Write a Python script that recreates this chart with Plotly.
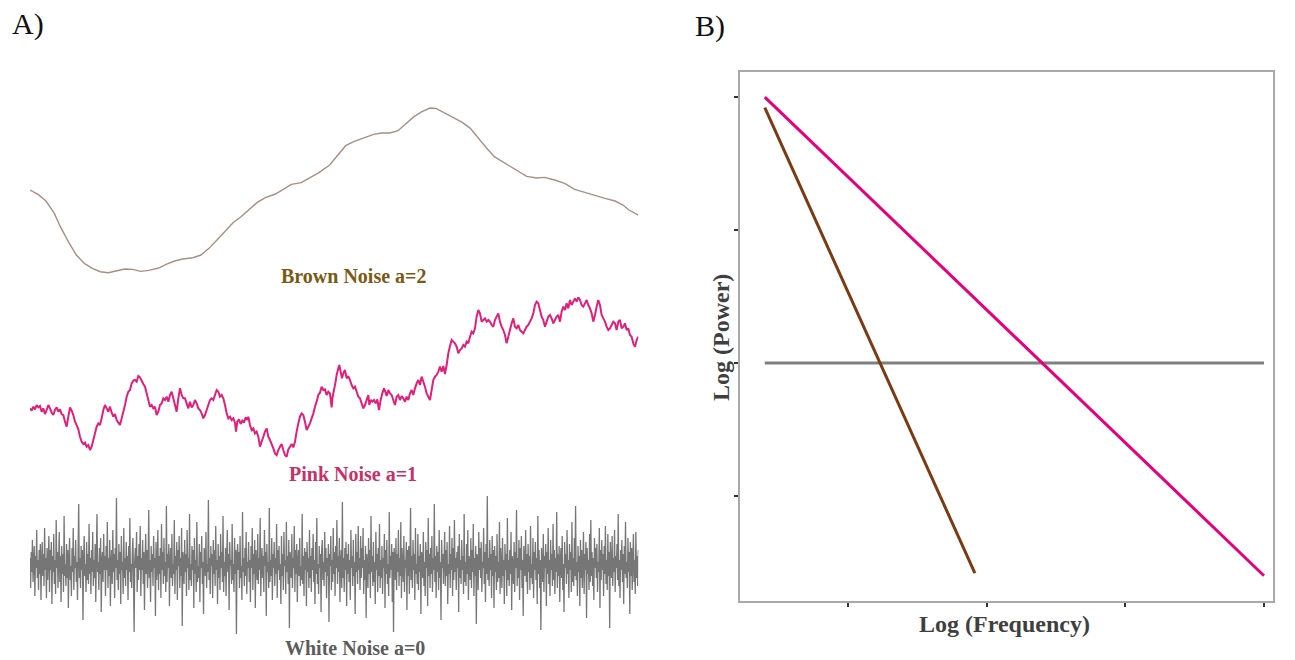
import plotly.graph_objects as go
import numpy as np

W, H = 1295, 660

# ---------------- Panel A data (sample index, amplitude) ----------------
brown_t = [0, 24, 48, 73, 91, 115, 139, 163, 187, 211,
           235, 259, 284, 308, 332, 356, 386, 410, 434, 458,
           489, 513, 537, 561, 585, 609, 633, 657, 682, 706,
           736, 760, 784, 814, 838, 868, 899, 923, 947, 971,
           1001, 1031, 1055, 1080, 1104, 1128, 1152, 1176, 1200, 1218,
           1236, 1266, 1297, 1321, 1345, 1369, 1393, 1417, 1441, 1465,
           1490, 1520, 1544, 1574, 1604, 1634, 1664, 1695, 1725, 1755,
           1779, 1797, 1825]
brown_v = [248, 235, 215, 178, 138, 93, 53, 28, 13, 3,
           0, 6, 11, 10, 4, 7, 14, 26, 35, 41,
           45, 53, 73, 98, 125, 150, 168, 188, 211, 225,
           236, 250, 265, 270, 283, 301, 323, 353, 381, 393,
           403, 415, 419, 419, 426, 448, 468, 483, 494, 493,
           483, 468, 451, 433, 403, 375, 348, 333, 320, 305,
           289, 284, 286, 278, 268, 250, 240, 232, 223, 215,
           203, 188, 173]

pink_t_mid = [600, 605, 610, 615, 618, 622, 627, 632, 637, 642,
              647, 652, 655, 660, 665, 670, 675, 680, 685, 690,
              695, 700, 705, 710, 715, 720, 725, 730, 735, 740,
              745, 750, 755, 760, 765, 770, 775, 780, 785, 790,
              795, 800, 805, 810, 815, 820, 825, 830, 835, 840,
              845, 850, 855, 860, 865, 870, 875, 880, 885, 890,
              895, 900, 905, 908, 912, 916, 920, 925, 928, 932,
              936, 940, 945, 950, 955, 960, 965, 970, 975, 980,
              985, 990, 995, 1000, 1005, 1010, 1015, 1018, 1022, 1027,
              1032, 1037, 1042, 1047, 1052, 1057, 1062, 1066, 1070, 1075,
              1080, 1085, 1090, 1095, 1100, 1105, 1110, 1115, 1120, 1125,
              1130, 1135, 1140, 1145, 1150, 1155, 1160, 1165, 1170, 1175,
              1180, 1185, 1190, 1195, 1200, 1205, 1210, 1215, 1220, 1225]
pink_t = list(range(0, 600, 5)) + pink_t_mid + list(range(1230, 1830, 5))
pink_v = [145, 138, 150, 142, 155, 148, 152, 135, 145, 128,
          140, 155, 145, 132, 125, 140, 148, 135, 142, 128,
          125, 105, 90, 120, 148, 138, 125, 105, 95, 82,
          60, 45, 38, 42, 30, 35, 20, 30, 50, 70,
          90, 100, 95, 115, 140, 155, 145, 135, 150, 132,
          120, 128, 110, 102, 95, 115, 135, 155, 180, 195,
          200, 220, 228, 230, 225, 242, 238, 228, 218, 210,
          190, 170, 150, 155, 145, 150, 125, 135, 155, 160,
          175, 170, 180, 165, 185, 195, 175, 155, 135, 175,
          205, 185, 175, 175, 160, 145, 165, 148, 155, 170,
          160, 145, 140, 130, 115, 125, 140, 155, 170, 175,
          170, 185, 200, 195, 180, 185, 175, 155, 130, 115,
          # middle segment
          120, 110, 115, 102, 75, 105, 112, 98, 108, 102,
          118, 110, 120, 95, 80, 85, 70, 75, 60, 30,
          45, 60, 75, 85, 60, 50, 38, 25, 10, 5,
          20, 30, 38, 20, 5, 0, 22, 30, 38, 28,
          45, 75, 100, 120, 130, 125, 105, 80, 90, 100,
          115, 130, 150, 165, 185, 192, 210, 200, 202, 185,
          195, 190, 148, 180, 200, 220, 245, 265, 275, 255,
          235, 250, 260, 235, 242, 230, 215, 205, 210, 195,
          180, 175, 160, 145, 155, 170, 185, 155, 170, 165,
          170, 160, 172, 140, 170, 190, 205, 195, 182, 200,
          190, 185, 170, 155, 180, 185, 170, 182, 175, 165,
          180, 170, 190, 200, 185, 205, 220, 230, 215, 240,
          225, 210, 190, 180, 170, 200, 230, 240, 245, 255,
          # last segment
          270, 255, 272, 248, 275, 310, 332, 350, 345, 340,
          330, 310, 320, 325, 335, 330, 345, 340, 360, 375,
          370, 385, 420, 440, 430, 405, 410, 415, 405, 410,
          405, 395, 390, 410, 420, 430, 405, 390, 380, 365,
          340, 360, 380, 400, 415, 390, 385, 395, 380, 375,
          370, 380, 390, 395, 405, 415, 430, 455, 465, 460,
          440, 420, 410, 390, 405, 420, 425, 415, 400, 410,
          420, 425, 405, 435, 450, 440, 460, 445, 470, 455,
          465, 475, 465, 478, 470, 455, 450, 460, 470, 455,
          445, 430, 405, 425, 450, 470, 455, 425, 415, 405,
          390, 380, 385, 395, 405, 400, 380, 405, 410, 385,
          390, 400, 380, 385, 365, 360, 340, 330, 350, 360]

white_v = [
    0.4, -1.1, 0.7, -0.3, 1.3, -0.8, 0.2, 1.0, -1.5, 0.5, -0.1, 1.8, -0.6, 0.3, -1.2, 0.8, -0.4, 1.1, -1.7, 0.1,
    1.2, -0.5, 0.6, -1.0, 1.9, -0.2, 0.4, -1.6, 0.9, -0.7, 0.3, 1.5, -1.3, 0.8, -0.2, 1.2, -1.9, 0.5, -0.3, 1.6,
    -0.9, 0.3, -1.4, 2.3, -0.1, 0.7, -1.1, 0.2, 1.7, -0.8, 0.5, -1.8, 1.0, -0.4, 0.6, -1.3, 2.5, -0.5, 0.1, -1.0,
    1.1, -0.6, 0.8, -2.1, 0.3, 1.4, -0.7, 0.0, -1.5, 0.9, -0.3, 1.9, -1.2, 0.5, -0.1, 1.3, -0.8, 0.2, -1.7, 0.7,
    3.1, -0.6, 0.4, -1.1, 1.0, -0.2, 0.8, -2.7, 0.3, 1.5, -0.5, 0.1, -1.3, 1.2, -0.7, 0.6, -0.9, 2.1, -0.4, 0.4,
    -1.4, 0.8, -0.3, 1.7, -1.0, 0.3, -0.6, 1.1, -1.8, 0.5, 2.6, -0.3, 0.2, -1.2, 0.9, -0.4, 1.4, -2.3, 0.2, 0.7,
    -0.8, 1.6, -0.2, 0.5, -1.5, 1.0, -0.2, 2.2, -1.1, 0.4, -0.5, 1.3, -2.0, 0.1, 0.8, -0.9, 1.8, -0.3, 0.6, -1.6,
    0.9, -0.1, 3.4, -0.7, 0.3, -1.2, 1.1, -0.4, 0.7, -1.9, 1.5, -0.2, 0.2, -1.4, 1.9, -0.6, 0.4, -1.0, 1.2, -0.2,
    0.5, -1.7, 1.0, -0.3, 2.4, -0.8, 0.1, -1.1, 0.6, 1.4, -0.5, -3.3, 0.3, 0.9, -0.1, 1.7, -1.3, 0.5, -0.7, 1.1,
    -0.2, 2.0, -1.5, 0.4, -0.2, 1.3, -0.9, 0.7, -2.2, 0.2, 1.6, -0.4, 0.8, -1.1, 0.1, 2.8, -0.6, 0.3, -1.8, 1.0,
    -0.3, 0.6, -1.0, 1.5, -0.1, 0.4, -2.5, 1.2, -0.7, 0.0, 1.8, -1.2, 0.5, -0.4, 0.9, -1.6, 2.1, -0.2, 0.7, -0.9,
    1.4, -0.5, 0.2, -1.3, 3.0, -0.8, 0.6, -0.1, 1.1, -2.0, 0.3, 0.9, -0.6, 1.6, -1.0, 0.1, -0.4, 2.3, -1.4, 0.5,
    -0.2, 1.2, -1.7, 0.8, 0.0, 1.5, -1.1, 0.4, -0.5, 1.9, -3.0, 0.7, 0.2, -0.9, 1.3, -0.3, 0.6, -1.5, 1.8, -0.1,
    0.4, -1.2, 2.6, -0.7, 0.1, -1.0, 1.0, -0.2, 0.8, -2.1, 1.4, -0.4, 0.3, -1.3, 2.2, -0.8, 0.0, -0.6, 1.1, -1.8,
    0.7, -0.1, 1.5, -0.9, 0.2, -2.4, 0.9, 0.5, -0.5, 1.7, -1.1, 0.1, -0.3, 3.3, -0.7, 0.4, -1.4, 1.0, 0.0, 0.6,
    -1.6, 1.3, -0.4, 0.8, -1.0, 2.0, -0.2, 0.3, -1.9, 1.1, -0.6, 0.5, -1.2, 1.6, -0.1, 0.7, -0.8, 2.5, -1.3, 0.2,
    -0.5, 0.9, -1.5, 0.4, 1.8, -0.3, 0.6, -2.2, 1.2, 0.0, 0.3, -0.9, 2.1, -0.7, 0.1, -1.3, 1.4, -0.4, 0.8, -3.4,
    0.5, 1.1, -0.2, 0.7, -1.1, 1.5, -0.6, 0.0, -1.7, 2.7, -0.3, 0.4, -1.0, 0.9, -0.5, 1.7, -1.4, 0.2, -0.1, 1.2,
    -0.8, 0.3, -1.8, 1.0, -0.1, 1.9, -1.2, 0.6, -0.4, 1.3, -2.1, 0.8, 0.0, -0.7, 1.6, -0.9, 0.4, -0.2, 2.4, -1.5,
    0.1, 0.9, -0.6, 0.5, -1.3, 1.8, 0.0, 0.7, -2.5, 1.1, -0.3, 0.2, -1.1, 2.9, -0.8, 0.3, -0.5, 1.4, -1.7, 0.6,
    -0.1, 1.2, -1.0, 0.4, -0.4, 2.1, -1.6, 0.8, -0.2, 1.0, -0.7, 0.1, -1.9, 1.5, -0.5, 0.6, -1.2, 1.7, 0.0, 0.3,
    -1.4, 2.2, -0.3, 0.5, -0.9, 1.3, -3.1, 0.7, 0.1, -0.6, 1.6, -1.1, 0.4, -0.1, 2.0, -1.3, 0.8, -0.4, 1.1, -1.8,
    0.2, 0.8, -0.5, 1.4, -1.0, 0.0, -0.7, 2.6, -0.9, 0.5, -1.5, 0.9, -0.2, 0.7, -2.0, 1.2, -0.3, 0.4, -1.1, 1.8,
    -0.6, 0.5, -1.3, 0.9, -0.2, 1.6, -0.8, 0.3, -1.9, 1.2, -0.4, 2.4, -0.9, 0.1, -1.4, 1.0, -0.1, 0.6, -2.3, 0.8,
    1.3, -0.7, 0.2, -1.0, 1.7, -0.3, 0.9, -1.6, 0.4, -0.5, 1.1, -2.8, 0.6, 0.0, 1.5, -1.2, 0.3, -0.8, 1.9, -0.4,
    0.7, -1.5, 1.0, -0.1, 2.3, -0.9, 0.5, -0.3, 1.4, -1.8, 0.2, 0.8, -1.1, 3.2, -0.6, 0.4, -1.3, 0.9, -0.2, 1.2,
    -2.0, 0.6, -0.4, 1.1, -0.8, 0.3, -1.7, 1.8, -0.1, 0.5, -1.0, 1.3, -0.5, 0.2, -2.4, 1.6, -0.3, 0.7, -0.9, 2.0,
    -0.2, 0.4, -1.2, 1.5, -0.6, 0.9, -0.1, 1.9, -1.4, 0.3, -0.7, 1.0, -2.6, 0.6, 0.1, -1.1, 1.4, -0.4, 0.8, -1.6,
    2.5, -0.3, 0.5, -1.0, 1.2, -0.8, 0.2, -1.9, 1.7, -0.2, 0.6, -1.3, 0.9, -0.5, 2.1, -1.1, 0.3, -0.6, 1.0, -1.4,
    0.4, -0.1, 1.6, -2.1, 0.8, -0.4, 1.3, -0.9, 0.1, -1.5, 2.7, -0.6, 0.5, -0.2, 1.1, -1.8, 0.7, -3.3, 0.9, 0.2,
    -0.7, 1.4, -1.2, 0.6, -0.3, 1.8, -1.0, 0.4, -0.5, 2.2, -1.6, 0.9, 0.0, -0.8, 1.5, -1.3, 0.3, -0.1, 1.2, -2.2,
    0.8, -0.5, 1.0, -1.4, 0.2, 2.9, -0.7, 0.5, -1.1, 1.3, -0.2, 0.6, -1.7, 1.9, -0.4, 0.1, -0.9, 1.6, -1.2, 0.5,
    -0.3, 1.1, -2.4, 0.7, 0.3, -0.6, 1.7, -1.0, 0.2, -1.5, 1.2, -0.1, 0.8, -2.0, 2.4, -0.5, 0.6, -1.1, 0.9, -0.4,
    1.5, -1.3, 0.4, -0.2, 3.1, -0.8, 0.5, -1.6, 1.0, -0.3, 0.7, -1.2, 1.8, -0.6, 0.2, -2.7, 1.3, -0.1, 0.6, -0.9,
    0.3, 1.7, -1.0, 0.8, -0.5, 1.2, -1.9, 0.1, -0.4, 2.0, -1.1, 0.6, -0.2, 1.4, -1.5, 0.9, -0.7, 2.3, -0.3, 0.4,
    -1.2, 0.7, -0.1, 1.0, -2.3, 1.6, -0.6, 0.3, -0.9, 1.3, -0.2, 0.5, -1.4, 2.6, -0.8, 0.2, -1.0, 1.1, -0.4, 1.8,
    -1.7, 0.5, 0.1, -0.7, 1.4, -1.1, 0.8, -0.3, 2.1, -1.5, 0.4, -0.5, 1.0, -2.9, 0.6, 0.3, -1.2, 1.7, -0.2, 0.9,
    -0.6, 1.2, -1.3, 0.2, -0.1, 1.9, -0.9, 0.7, -1.8, 1.1, -0.4, 3.5, -0.7, 0.4, -1.0, 1.3, -0.2, 0.6, -1.6, 1.5,
    -0.5, 0.8, -2.1, 1.0, -0.3, 0.5, -1.2, 1.6, -0.8, 0.2, -0.6, 2.2, -1.4, 0.9, 0.0, -1.1, 1.4, -0.5, 0.3, -1.9,
    1.1, -0.2, 0.6, -1.5, 2.4, -0.7, 0.3, -1.0, 0.8, -0.4, 1.7, -2.2, 0.5, 0.1, -0.9, 1.2, -1.3, 0.7, -0.1, 2.8,
    -1.0, 0.4, -0.6, 1.3, -1.7, 0.9, -0.2, 1.5, -1.1, 0.3, -2.5, 1.0, 0.2, -0.5, 1.8, -0.8, 0.6, -1.4, 1.1, -0.3,
    0.5, -1.2, 2.0, -0.6, 0.1, -0.9, 1.4, -1.6, 0.7, -0.2, 1.2, -0.7, 0.4, -1.9, 2.5, -0.4, 0.8, -1.1, 0.3, -3.2,
    0.9, 0.2, -0.8, 1.6, -1.3, 0.5, -0.1, 1.1, -2.0, 0.7, -0.4, 1.9, -0.9, 0.3, -1.5, 1.3, -0.2, 0.6, -1.0, 2.1,
    -0.7, 0.8, -1.4, 0.4, -0.3, 2.7, -1.1, 0.6, -0.5, 1.0, -1.8, 0.2, 0.9, -0.6, 1.5, -1.2, 0.1, -2.3, 1.2, -0.1,
    0.6, -0.9, 1.8, -0.4, 0.3, -1.6, 1.1, -0.2, 0.7, -1.3, 2.2, -0.8, 0.4, -1.0, 1.4, -0.5, 3.0, -0.7, 0.2, -1.5,
    1.0, -0.3, 0.5, -2.0, 1.3, -0.6, 0.8, -1.1, 0.1, 1.7, -1.4, 0.6, -0.2, 1.2, -2.6, 0.9, -0.4, 0.3, -1.2, 1.6,
    -0.8, 2.3, -0.5, 0.7, -1.0, 0.4, -1.7, 1.4, -0.1, 0.9, -0.6, 1.1, -1.3, 0.2, -0.3, 1.9, -2.1, 0.8, -0.7, 1.3,
    -0.2, 0.6, -1.5, 1.0, -0.4, 2.0, -0.9, 0.3, -1.2, 1.6, -0.5, 0.7, -3.1, 1.2, 0.1, -0.6, 1.5, -1.0, 0.4, -0.3,
    1.8, -1.3, 0.5, -0.1, 1.1, -0.7, 2.6, -1.0, 0.3, -1.6, 0.8, -0.2, 1.3, -0.8, 0.6, -1.9, 1.0, -0.4, 2.2, -0.6,
    0.2, -1.1, 1.4, -0.3, 0.7, -2.4, 1.2, -0.5, 0.9, -1.2, 0.4, 1.6, -0.8, 0.3, -1.4, 1.7, -0.6, 0.5, -1.0, 0.8]
white_t = np.linspace(0, 1825, len(white_v))

# ---------------- Panel B data (log frequency, log power) ----------------
logf_pink = [0.4, 4.0]
logp_pink = [2.0, -1.6]
logf_brown = [0.4, 1.915]
logp_brown = [1.92, -1.58]
logf_white = [0.4, 4.0]
logp_white = [0.0, 0.0]
x_ticks = [1, 2, 3, 4]
y_ticks = [-1, 0, 1, 2]

SERIF = "Liberation Serif, Times New Roman, serif"


def yrange(v0, p0, v1, p1):
    k = (p0 - p1) / (v1 - v0)
    return [v0 - (H - p0) / k, v0 + p0 / k]


fig = go.Figure()

fig.add_trace(go.Scatter(x=brown_t, y=brown_v, mode="lines", xaxis="x", yaxis="y",
                         line=dict(color="#a88f80", width=1.4), hoverinfo="skip"))
fig.add_trace(go.Scatter(x=pink_t, y=pink_v, mode="lines", xaxis="x", yaxis="y2",
                         line=dict(color="#e0207a", width=2, simplify=False), hoverinfo="skip"))
fig.add_trace(go.Scatter(x=white_t, y=white_v, mode="lines", xaxis="x", yaxis="y3",
                         line=dict(color="#767676", width=1.3, simplify=False), hoverinfo="skip"))

fig.add_trace(go.Scatter(x=logf_white, y=logp_white, mode="lines", xaxis="x2", yaxis="y4",
                         line=dict(color="#7f7f7f", width=3.2), hoverinfo="skip"))
fig.add_trace(go.Scatter(x=logf_brown, y=logp_brown, mode="lines", xaxis="x2", yaxis="y4",
                         line=dict(color="#7a3b12", width=3), hoverinfo="skip"))
fig.add_trace(go.Scatter(x=logf_pink, y=logp_pink, mode="lines", xaxis="x2", yaxis="y4",
                         line=dict(color="#e6007e", width=3), hoverinfo="skip"))

hidden = dict(visible=False, showgrid=False, zeroline=False, fixedrange=True)

px_per_x = (1264 - 848) / 3.0
px_per_y = (496.6 - 97.7) / 3.0
xb_range = [1 - (848 - 740) / px_per_x, 1 + (1273 - 848) / px_per_x]
yb_range = [(363 - 601) / px_per_y, (363 - 72) / px_per_y]

fig.update_layout(
    width=W, height=H,
    margin=dict(l=0, r=0, t=0, b=0),
    paper_bgcolor="white", plot_bgcolor="rgba(0,0,0,0)",
    showlegend=False,
    xaxis=dict(domain=[30 / W, 638.3 / W], range=[0, 1825], anchor="y", **hidden),
    yaxis=dict(domain=[0, 1], range=yrange(0, 272.7, 533, 95), anchor="x", **hidden),
    yaxis2=dict(domain=[0, 1], range=yrange(0, 456.7, 500, 290), anchor="x", overlaying="y", **hidden),
    yaxis3=dict(domain=[0, 1], range=yrange(0, 566, 1, 546), anchor="x", overlaying="y", **hidden),
    xaxis2=dict(domain=[740 / W, 1273 / W], range=xb_range, anchor="y4",
                showgrid=False, zeroline=False, showline=True, mirror=True,
                linecolor="#a9a9a9", linewidth=1.6, ticks="outside", ticklen=4,
                tickwidth=1.5, tickcolor="#333333", tickvals=x_ticks,
                showticklabels=False, fixedrange=True),
    yaxis4=dict(domain=[(H - 601) / H, (H - 72) / H], range=yb_range, anchor="x2",
                showgrid=False, zeroline=False, showline=True, mirror=True,
                linecolor="#a9a9a9", linewidth=1.6, ticks="outside", ticklen=4,
                tickwidth=1.5, tickcolor="#333333", tickvals=y_ticks,
                showticklabels=False, fixedrange=True),
)


def ann(text, px, py, size, color, bold=False, angle=0):
    t = f"<b>{text}</b>" if bold else text
    fig.add_annotation(text=t, x=px / W, y=1 - py / H, xref="paper", yref="paper",
                       xanchor="center", yanchor="middle", showarrow=False,
                       textangle=angle, font=dict(family=SERIF, size=size, color=color))


ann("A)", 28, 24, 30, "#111111")
ann("B)", 710, 26, 30, "#111111")
ann("Brown Noise a=2", 354, 276, 20, "#7a5a12", bold=True)
ann("Pink Noise a=1", 353, 474, 20, "#c7306a", bold=True)
ann("White Noise a=0", 355, 648, 20, "#5c5c5c", bold=True)
ann("Log (Frequency)", 1004, 624, 24, "#3f3f3f", bold=True)
ann("Log (Power)", 721, 338, 24, "#3f3f3f", bold=True, angle=-90)

fig.write_html("out.html")
